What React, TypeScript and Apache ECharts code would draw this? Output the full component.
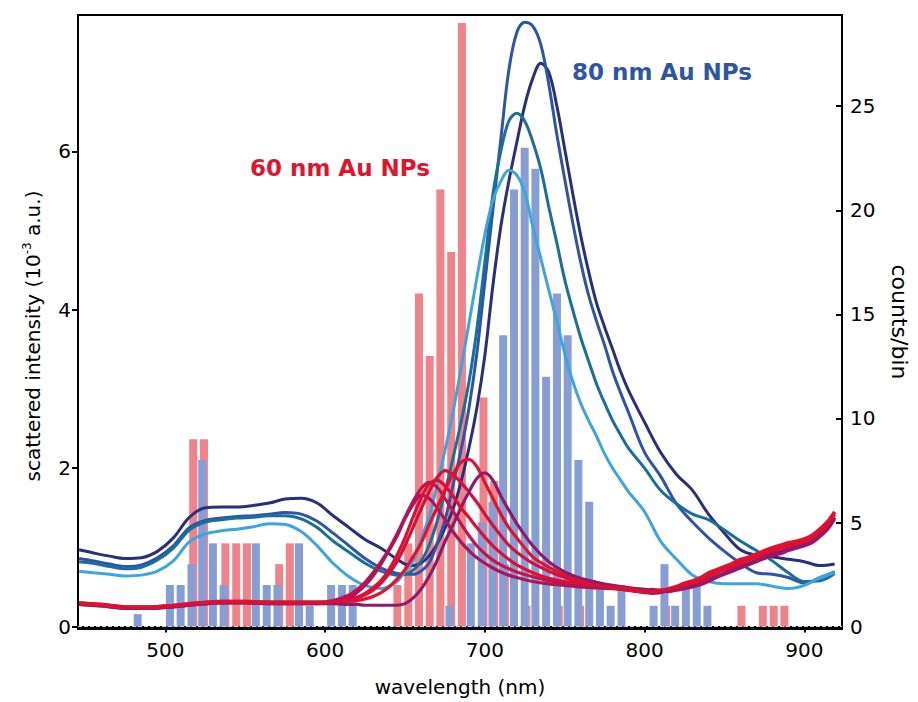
import React, { useEffect, useRef } from "react";
import * as echarts from "echarts";

const FONT = '"DejaVu Sans", Verdana, sans-serif';

// Histogram bin centres (nm)
const binCenters = [
  483.2, 489.9, 496.7, 503.4, 510.1, 516.9, 523.6, 530.3, 537.0, 543.8,
  550.5, 557.2, 564.0, 570.7, 577.4, 584.2, 590.9, 597.6, 604.3, 611.1,
  617.8, 624.5, 631.3, 638.0, 644.7, 651.5, 658.2, 664.9, 671.6, 678.4,
  685.1, 691.8, 698.6, 705.3, 712.0, 718.8, 725.5, 732.2, 738.9, 745.7,
  752.4, 759.1, 765.9, 772.6, 779.3, 786.1, 792.8, 799.5, 806.2, 813.0,
  819.7, 826.4, 833.2, 839.9, 846.6, 853.4, 860.1, 866.8, 873.5, 880.3, 887.0,
];
// counts per bin, 80 nm particles (blue)
const counts80 = [
  0.6, 0, 0, 2, 2, 3, 8, 4, 2, 0,
  0, 4, 2, 2, 0, 4, 1, 0, 2, 2,
  2, 0, 0, 0, 0, 0, 0, 0, 0, 1,
  0, 4, 5, 6, 14, 21, 23, 22, 12, 16,
  14, 8, 6, 2, 1, 2, 0, 0, 1, 3,
  1, 2, 2, 1, 0, 0, 0, 0, 0, 0, 0,
];
// counts per bin, 60 nm particles (red)
const counts60 = [
  0, 0, 0, 0, 0, 9, 9, 0, 4, 4,
  4, 0, 0, 3, 4, 0, 0, 0, 0, 0,
  0, 0, 0, 0, 2, 4, 16, 13, 21, 18,
  29, 0, 11, 7, 3, 0, 1, 0, 0, 1,
  0, 1, 0, 0, 0, 0, 0, 0, 0, 1,
  0, 0, 0, 0, 0, 0, 1, 0, 1, 1, 1,
];

// Spectra of 80 nm particles
const blueLambda = [
  446, 455, 465, 475, 485, 495, 505, 515, 525, 535,
  545, 555, 565, 575, 585, 595, 605, 615, 625, 635,
  645, 650, 655, 660, 665, 670, 675, 680, 685, 690,
  695, 700, 705, 710, 715, 720, 725, 730, 735, 740,
  745, 750, 755, 760, 765, 770, 775, 780, 785, 790,
  800, 810, 820, 830, 840, 850, 860, 870, 880, 890,
  900, 910, 919,
];
const spec80Navy = [
  0.97, 0.93, 0.89, 0.86, 0.87, 0.95, 1.12, 1.38, 1.50, 1.51,
  1.51, 1.53, 1.56, 1.61, 1.62, 1.56, 1.40, 1.25, 1.10, 0.99,
  0.85, 0.79, 0.77, 0.80, 0.89, 1.04, 1.24, 1.48, 1.82, 2.25,
  2.76, 3.42, 4.30, 5.05, 5.62, 6.11, 6.58, 6.92, 7.11, 7.00,
  6.58, 6.03, 5.47, 4.94, 4.48, 4.08, 3.78, 3.50, 3.22, 2.98,
  2.58, 2.20, 1.92, 1.72, 1.42, 1.18, 0.97, 0.90, 0.88, 0.85,
  0.82, 0.77, 0.79,
];
const spec80Royal = [
  0.86, 0.83, 0.79, 0.76, 0.78, 0.87, 1.02, 1.25, 1.34, 1.37,
  1.39, 1.40, 1.42, 1.44, 1.42, 1.33, 1.18, 1.02, 0.86, 0.74,
  0.67, 0.66, 0.66, 0.70, 0.80, 1.04, 1.34, 1.78, 2.22, 2.75,
  3.45, 4.35, 5.25, 6.15, 7.02, 7.50, 7.63, 7.58, 7.35, 6.85,
  6.22, 5.65, 5.10, 4.60, 4.18, 3.85, 3.55, 3.22, 2.95, 2.70,
  2.20, 1.90, 1.55, 1.32, 1.12, 0.95, 0.80, 0.68, 0.66, 0.62,
  0.55, 0.62, 0.69,
];
const spec80Teal = [
  0.82, 0.80, 0.76, 0.73, 0.75, 0.84, 0.99, 1.22, 1.32, 1.35,
  1.37, 1.38, 1.40, 1.40, 1.36, 1.25, 1.08, 0.94, 0.80, 0.70,
  0.65, 0.66, 0.71, 0.82, 1.02, 1.32, 1.70, 2.12, 2.57, 3.08,
  3.75, 4.60, 5.45, 6.00, 6.38, 6.48, 6.38, 6.12, 5.78, 5.30,
  4.85, 4.38, 4.00, 3.65, 3.35, 3.06, 2.82, 2.60, 2.42, 2.25,
  2.00, 1.72, 1.55, 1.42, 1.35, 1.22, 1.08, 0.96, 0.83, 0.68,
  0.57, 0.58, 0.67,
];
const spec80Light = [
  0.70, 0.68, 0.66, 0.64, 0.65, 0.70, 0.83, 1.07, 1.17, 1.21,
  1.23, 1.26, 1.30, 1.29, 1.20, 1.02, 0.80, 0.63, 0.52, 0.48,
  0.57, 0.70, 0.82, 1.10, 1.38, 1.78, 2.22, 2.70, 3.25, 3.82,
  4.40, 4.95, 5.38, 5.62, 5.76, 5.70, 5.48, 5.05, 4.65, 4.25,
  3.86, 3.45, 3.10, 2.82, 2.60, 2.40, 2.18, 2.00, 1.85, 1.70,
  1.45, 1.08, 0.85, 0.65, 0.57, 0.54, 0.54, 0.54, 0.51, 0.48,
  0.52, 0.62, 0.68,
];

// Spectra of 60 nm particles
const redLambda = [
  446, 460, 475, 490, 505, 520, 535, 550, 565, 580, 595,
  605, 615, 620, 625, 630, 635, 640, 645, 650, 655,
  660, 665, 670, 675, 680, 685, 690, 695, 700, 705,
  710, 715, 720, 730, 740, 750, 760, 770, 780, 790,
  800, 805, 810, 815, 820, 825, 830, 835, 840, 845,
  850, 855, 860, 865, 870, 875, 880, 885, 890, 895,
  900, 905, 910, 915, 919,
];
const spec60A = [
  0.30, 0.28, 0.25, 0.25, 0.27, 0.30, 0.32, 0.32, 0.31, 0.31, 0.31,
  0.33, 0.40, 0.47, 0.56, 0.68, 0.82, 0.98, 1.17, 1.38, 1.58,
  1.74, 1.82, 1.76, 1.62, 1.46, 1.30, 1.15, 1.02, 0.92, 0.84,
  0.78, 0.73, 0.69, 0.63, 0.58, 0.55, 0.53, 0.51, 0.49, 0.46,
  0.44, 0.43, 0.45, 0.44, 0.47, 0.49, 0.51, 0.55, 0.60, 0.64,
  0.68, 0.73, 0.77, 0.80, 0.84, 0.89, 0.93, 0.95, 0.99, 1.02,
  1.04, 1.09, 1.17, 1.26, 1.38,
];
const spec60B = [
  0.28, 0.26, 0.23, 0.23, 0.25, 0.28, 0.30, 0.30, 0.29, 0.29, 0.29,
  0.31, 0.36, 0.43, 0.52, 0.64, 0.79, 0.96, 1.14, 1.36, 1.54,
  1.66, 1.62, 1.50, 1.35, 1.20, 1.07, 0.96, 0.87, 0.80, 0.74,
  0.69, 0.65, 0.62, 0.57, 0.54, 0.52, 0.50, 0.49, 0.48, 0.46,
  0.43, 0.42, 0.43, 0.45, 0.46, 0.48, 0.50, 0.53, 0.57, 0.62,
  0.66, 0.70, 0.74, 0.78, 0.82, 0.86, 0.90, 0.92, 0.96, 0.99,
  1.02, 1.06, 1.14, 1.24, 1.36,
];
const spec60C = [
  0.29, 0.27, 0.24, 0.24, 0.26, 0.29, 0.31, 0.31, 0.30, 0.30, 0.30,
  0.31, 0.33, 0.36, 0.40, 0.46, 0.55, 0.67, 0.82, 1.02, 1.25,
  1.48, 1.70, 1.88, 1.97, 1.92, 1.82, 1.70, 1.57, 1.42, 1.28,
  1.15, 1.03, 0.94, 0.80, 0.70, 0.62, 0.56, 0.52, 0.49, 0.46,
  0.44, 0.45, 0.44, 0.47, 0.50, 0.53, 0.56, 0.60, 0.66, 0.70,
  0.74, 0.78, 0.83, 0.86, 0.90, 0.94, 0.98, 1.01, 1.04, 1.07,
  1.10, 1.15, 1.22, 1.32, 1.44,
];
const spec60D = [
  0.30, 0.28, 0.25, 0.25, 0.27, 0.30, 0.32, 0.32, 0.31, 0.31, 0.31,
  0.31, 0.32, 0.33, 0.35, 0.38, 0.43, 0.50, 0.60, 0.72, 0.88,
  1.05, 1.28, 1.50, 1.72, 1.92, 2.07, 2.11, 2.02, 1.82, 1.62,
  1.42, 1.25, 1.12, 0.88, 0.75, 0.65, 0.58, 0.54, 0.51, 0.49,
  0.46, 0.47, 0.46, 0.48, 0.51, 0.55, 0.58, 0.62, 0.68, 0.72,
  0.76, 0.80, 0.85, 0.88, 0.92, 0.96, 1.00, 1.03, 1.06, 1.08,
  1.11, 1.16, 1.24, 1.34, 1.45,
];
const spec60E = [
  0.28, 0.26, 0.23, 0.23, 0.25, 0.28, 0.30, 0.30, 0.29, 0.29, 0.29,
  0.29, 0.28, 0.28, 0.27, 0.27, 0.27, 0.27, 0.27, 0.29, 0.36,
  0.47, 0.63, 0.83, 1.07, 1.28, 1.50, 1.70, 1.87, 1.94, 1.85,
  1.65, 1.47, 1.30, 1.02, 0.82, 0.69, 0.61, 0.56, 0.52, 0.49,
  0.47, 0.46, 0.45, 0.46, 0.48, 0.50, 0.52, 0.55, 0.59, 0.63,
  0.67, 0.71, 0.75, 0.79, 0.83, 0.87, 0.91, 0.94, 0.97, 1.00,
  1.03, 1.08, 1.16, 1.26, 1.38,
];
const spec60F = [
  0.29, 0.27, 0.24, 0.24, 0.26, 0.29, 0.31, 0.31, 0.30, 0.30, 0.30,
  0.31, 0.34, 0.37, 0.42, 0.49, 0.58, 0.72, 0.90, 1.12, 1.38,
  1.62, 1.80, 1.85, 1.78, 1.65, 1.50, 1.38, 1.25, 1.13, 1.02,
  0.93, 0.85, 0.78, 0.68, 0.61, 0.57, 0.54, 0.52, 0.50, 0.48,
  0.45, 0.44, 0.46, 0.47, 0.49, 0.52, 0.55, 0.58, 0.63, 0.68,
  0.72, 0.76, 0.80, 0.84, 0.88, 0.92, 0.96, 0.99, 1.02, 1.05,
  1.07, 1.12, 1.20, 1.30, 1.42,
];

const xTicks = [500, 600, 700, 800, 900];
const leftTicks = [0, 2, 4, 6];
const rightTicks = [0, 5, 10, 15, 20, 25];

const zip = (xs: number[], ys: number[]) => xs.map((x, i) => [x, ys[i]]);
const bars = (ys: number[]) =>
  binCenters.map((x, i) => [x, ys[i]]).filter((d) => d[1] > 0);

const blueLines = [
  { name: "80 nm #1", data: spec80Navy, color: "#2a2f7c" },
  { name: "80 nm #2", data: spec80Royal, color: "#2d54a6" },
  { name: "80 nm #3", data: spec80Teal, color: "#17709b" },
  { name: "80 nm #4", data: spec80Light, color: "#3ba6de" },
];
const redLines = [
  { name: "60 nm #1", data: spec60A, color: "#c4124c" },
  { name: "60 nm #2", data: spec60B, color: "#a9165e" },
  { name: "60 nm #3", data: spec60C, color: "#d5103b" },
  { name: "60 nm #4", data: spec60D, color: "#e5112c" },
  { name: "60 nm #5", data: spec60E, color: "#8d1b6d" },
  { name: "60 nm #6", data: spec60F, color: "#dd0f33" },
];

export default function App() {
  const ref = useRef<HTMLDivElement>(null);
  useEffect(() => {
    document.body.style.margin = "0";
    if (!ref.current) return;
    const chart = echarts.init(ref.current, null, { renderer: "svg" });
    const axisText = { color: "#000", fontSize: 20, fontFamily: FONT };
    const option: any = {
      animation: false,
      backgroundColor: "#fff",
      grid: {
        left: 78,
        right: 70,
        top: 15,
        bottom: 70,
        show: true,
        borderColor: "#000",
        borderWidth: 2,
        backgroundColor: "transparent",
      },
      xAxis: {
        type: "value",
        min: 445.3,
        max: 923.6,
        axisLine: { show: true, lineStyle: { color: "#000", width: 2 } },
        axisTick: { show: true, length: 6, customValues: xTicks, lineStyle: { color: "#000", width: 2 } },
        axisLabel: { customValues: xTicks, margin: 11, ...axisText },
        splitLine: { show: false },
        name: "wavelength (nm)",
        nameLocation: "middle",
        nameGap: 48,
        nameTextStyle: { color: "#000", fontSize: 20, fontFamily: FONT },
      },
      yAxis: [
        {
          type: "value",
          position: "left",
          min: -0.03,
          max: 7.72,
          axisLine: { show: true, lineStyle: { color: "#000", width: 2 } },
          axisTick: { show: true, length: 6, customValues: leftTicks, lineStyle: { color: "#000", width: 2 } },
          axisLabel: { customValues: leftTicks, margin: 7, ...axisText },
          splitLine: { show: false },
          name: "scattered intensity (10{sup|-3} a.u.)",
          nameLocation: "middle",
          nameRotate: 90,
          nameGap: 33,
          nameTextStyle: {
            color: "#000",
            fontSize: 20,
            fontFamily: FONT,
            lineHeight: 24,
            padding: [0, 28, 0, 0],
            rich: { sup: { fontSize: 12, lineHeight: 12, verticalAlign: "top", color: "#000", fontFamily: FONT } },
          },
        },
        {
          type: "value",
          position: "right",
          min: -0.115,
          max: 29.38,
          axisLine: { show: true, lineStyle: { color: "#000", width: 2 } },
          axisTick: { show: true, inside: true, length: 6, customValues: rightTicks, lineStyle: { color: "#000", width: 2 } },
          axisLabel: { customValues: rightTicks, margin: 8, ...axisText },
          splitLine: { show: false },
          name: "counts/bin",
          nameLocation: "middle",
          nameRotate: -90,
          nameGap: 46,
          nameTextStyle: { color: "#000", fontSize: 22, fontFamily: FONT },
        },
      ],
      graphic: [
        {
          type: "text",
          left: 250,
          top: 156,
          style: { text: "60 nm Au NPs", fill: "#e3122d", font: `bold 23px ${FONT}` },
        },
        {
          type: "text",
          left: 572,
          top: 60,
          style: { text: "80 nm Au NPs", fill: "#2d55a5", font: `bold 23px ${FONT}` },
        },
      ],
      series: [
        {
          name: "80 nm counts",
          type: "bar",
          yAxisIndex: 1,
          data: bars(counts80),
          barWidth: 8,
          barGap: "-78%",
          itemStyle: { color: "#879ed4" },
          z: 3,
          markLine: {
            silent: true,
            symbol: "none",
            label: { show: false },
            lineStyle: { type: "dashed", color: "#c9cfea", width: 1 },
            data: [{ yAxis: 0 }],
          },
        },
        {
          name: "60 nm counts",
          type: "bar",
          yAxisIndex: 1,
          data: bars(counts60),
          barWidth: 8,
          barGap: "-78%",
          itemStyle: { color: "#f08389" },
          z: 2,
        },
        ...blueLines.map((l) => ({
          name: l.name,
          type: "line",
          yAxisIndex: 0,
          data: zip(blueLambda, l.data),
          showSymbol: false,
          smooth: 0.35,
          lineStyle: { color: l.color, width: 3 },
          itemStyle: { color: l.color },
          z: 4,
        })),
        ...redLines.map((l) => ({
          name: l.name,
          type: "line",
          yAxisIndex: 0,
          data: zip(redLambda, l.data),
          showSymbol: false,
          smooth: 0.3,
          lineStyle: { color: l.color, width: 3.2 },
          itemStyle: { color: l.color },
          z: 5,
        })),
      ],
    };
    chart.setOption(option);
    return () => chart.dispose();
  }, []);
  return <div ref={ref} style={{ width: 918, height: 702 }} />;
}
